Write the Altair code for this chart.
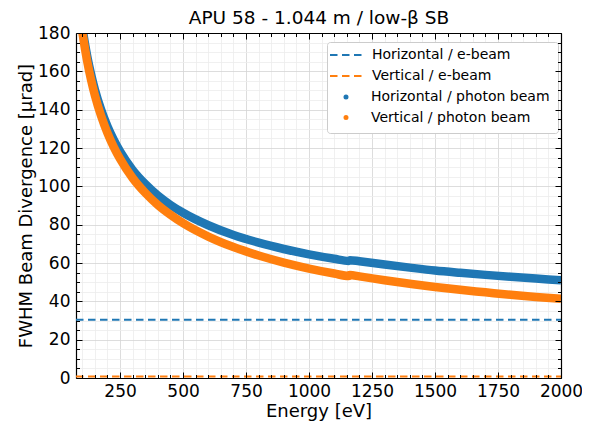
import altair as alt
import pandas as pd

# ---- data ----
energy = [80, 90, 100, 110, 120, 135, 150, 175, 200, 225, 250, 300, 350, 400, 450,
          500, 600, 700, 800, 900, 1000, 1100, 1158, 1162, 1200, 1300, 1400, 1500,
          1600, 1700, 1800, 1900, 2000]
horiz_photon = [204.2, 192.7, 183.2, 174.9, 167.6, 158.4, 150.5, 139.9, 131.3, 124.2,
                118.2, 108.5, 101.2, 95.2, 90.3, 86.2, 79.7, 74.6, 70.6, 67.3, 64.5,
                62.2, 61.1, 61.5, 60.9, 59.2, 57.6, 56.1, 54.9, 53.8, 52.8, 51.9, 51.0]
vert_photon = [202.0, 190.4, 180.7, 172.3, 164.9, 155.5, 147.5, 136.6, 127.8, 120.5,
               114.3, 104.3, 96.6, 90.3, 85.2, 80.8, 73.8, 68.3, 63.9, 60.2, 57.1,
               54.5, 53.2, 53.7, 53.0, 51.0, 49.2, 47.5, 46.0, 44.7, 43.4, 42.3, 41.3]
ebeam_energy = [75, 2000]
horiz_ebeam = 30.4
vert_ebeam = 0.8

photon_names = ["Horizontal / photon beam", "Vertical / photon beam"]
ebeam_names = ["Horizontal / e-beam", "Vertical / e-beam"]
colors = ["#1f77b4", "#ff7f0e"]
title_text = "APU 58 - 1.044 m / low-β SB"

x_domain = [75, 2000]
y_domain = [0, 180]
x_tick_values = list(range(100, 2001, 50))
y_tick_values = list(range(0, 181, 5))

# ---- tables ----
df_h = pd.DataFrame({"energy": energy, "divergence": horiz_photon, "series": photon_names[0]})
df_v = pd.DataFrame({"energy": energy, "divergence": vert_photon, "series": photon_names[1]})
df_eh = pd.DataFrame({"energy": ebeam_energy, "divergence": [horiz_ebeam] * 2,
                      "series": ebeam_names[0]})
df_ev = pd.DataFrame({"energy": ebeam_energy, "divergence": [vert_ebeam] * 2,
                      "series": ebeam_names[1]})

W, H = 485, 345
FONT = "DejaVu Sans"
major_x = "datum.value % 250 === 0"
major_y = "datum.value % 20 === 0"


def xs():
    return alt.Scale(domain=x_domain, nice=False, zero=False)


def ys():
    return alt.Scale(domain=y_domain, nice=False, zero=False)


def tsize(test):
    return {"condition": {"test": test, "value": 6}, "value": 3.5}


def gcolor(test):
    return {"condition": {"test": test, "value": "#d4d4d4"}, "value": "#ececec"}


axis_x_main = alt.Axis(orient="bottom", values=x_tick_values, format="d",
                       labelExpr=f"{major_x} ? datum.label : ''",
                       ticks=False, grid=True, gridColor=gcolor(major_x), gridWidth=0.8,
                       domain=True, domainColor="black", domainWidth=1.2,
                       labelFontSize=17, labelPadding=5, labelFlush=False,
                       labelOverlap=False, labelColor="black",
                       title="Energy [eV]", titleFontSize=18, titlePadding=3,
                       titleFontWeight="normal", titleColor="black", zindex=0)
axis_x_in_bottom = alt.Axis(orient="top", offset=-H, values=x_tick_values, labels=False,
                            grid=False, domain=False, ticks=True, tickSize=tsize(major_x),
                            tickColor="black", tickWidth=1, title=None, zindex=1)
axis_x_in_top = alt.Axis(orient="bottom", offset=-H, values=x_tick_values, labels=False,
                         grid=False, domain=True, domainColor="black", domainWidth=1.2,
                         ticks=True, tickSize=tsize(major_x), tickColor="black",
                         tickWidth=1, title=None, zindex=1)
axis_x_title = alt.Axis(orient="top", labels=False, ticks=False, grid=False, domain=False,
                        title=title_text, titleFontSize=18.5, titleFontWeight="normal",
                        titleColor="black", titlePadding=6, zindex=1)

axis_y_main = alt.Axis(orient="left", values=y_tick_values, format="d",
                       labelExpr=f"{major_y} ? datum.label : ''",
                       ticks=False, grid=True, gridColor=gcolor(major_y), gridWidth=0.8,
                       domain=True, domainColor="black", domainWidth=1.2,
                       labelFontSize=17, labelPadding=6, labelFlush=False,
                       labelOverlap=False, labelColor="black",
                       title="FWHM Beam Divergence [μrad]", titleFontSize=18,
                       titlePadding=2, titleFontWeight="normal", titleColor="black", zindex=0)
axis_y_in_left = alt.Axis(orient="right", offset=-W, values=y_tick_values, labels=False,
                          grid=False, domain=False, ticks=True, tickSize=tsize(major_y),
                          tickColor="black", tickWidth=1, title=None, zindex=1)
axis_y_in_right = alt.Axis(orient="left", offset=-W, values=y_tick_values, labels=False,
                           grid=False, domain=True, domainColor="black", domainWidth=1.2,
                           ticks=True, tickSize=tsize(major_y), tickColor="black",
                           tickWidth=1, title=None, zindex=1)

photon_legend = alt.Legend(title=" ", orient="none", legendX=251, legendY=9,
                           direction="vertical", symbolType="circle", symbolSize=6.25,
                           symbolStrokeWidth=2.5, symbolOffset=4, labelOffset=18,
                           padding=8, fillColor="white", strokeColor="#cccccc",
                           cornerRadius=3, labelFont=FONT, labelFontSize=14,
                           labelColor="black", titleFontSize=10, titlePadding=30,
                           rowPadding=6.5, labelLimit=400, zindex=0)
ebeam_legend = alt.Legend(title=None, orient="none", legendX=253, legendY=15,
                          direction="vertical", symbolType="stroke", symbolSize=1024,
                          symbolStrokeWidth=2, symbolDash=[7.5, 4.5], clipHeight=14,
                          labelOffset=9, padding=0, labelFont=FONT, labelFontSize=14,
                          labelColor="black", rowPadding=7, labelLimit=400, zindex=1)

color_scale = alt.Scale(domain=photon_names, range=colors)
stroke_scale = alt.Scale(domain=ebeam_names, range=colors)

eh_layer = alt.Chart(df_eh).mark_line(strokeWidth=2, strokeDash=[7.5, 4.5], clip=True).encode(
    x=alt.X("energy:Q", scale=xs(), axis=axis_x_in_top),
    y=alt.Y("divergence:Q", scale=ys(), axis=axis_y_in_right),
    stroke=alt.Stroke("series:N", scale=stroke_scale, legend=ebeam_legend),
)

ev_layer = alt.Chart(df_ev).mark_line(strokeWidth=2, strokeDash=[7.5, 4.5], clip=True).encode(
    x=alt.X("energy:Q", scale=xs(), axis=axis_x_title),
    y=alt.Y("divergence:Q", scale=ys(), axis=None),
    stroke=alt.Stroke("series:N", scale=stroke_scale, legend=ebeam_legend),
)

h_layer = alt.Chart(df_h).mark_line(strokeWidth=8.5, clip=True, interpolate="monotone").encode(
    x=alt.X("energy:Q", scale=xs(), axis=axis_x_main),
    y=alt.Y("divergence:Q", scale=ys(), axis=axis_y_main),
    color=alt.Color("series:N", scale=color_scale, legend=photon_legend),
)

v_layer = alt.Chart(df_v).mark_line(strokeWidth=8.5, clip=True, interpolate="monotone").encode(
    x=alt.X("energy:Q", scale=xs(), axis=axis_x_in_bottom),
    y=alt.Y("divergence:Q", scale=ys(), axis=axis_y_in_left),
    color=alt.Color("series:N", scale=color_scale, legend=photon_legend),
)

chart = alt.layer(eh_layer, ev_layer, h_layer, v_layer).resolve_axis(
    x="independent", y="independent"
).properties(
    width=W, height=H,
    autosize=alt.AutoSizeParams(type="none"),
    padding={"left": 68, "top": 25, "right": 21, "bottom": 44},
).configure_view(stroke=None).configure_axis(
    labelFont=FONT, titleFont=FONT
).configure_legend(labelFont=FONT, titleFont=FONT)

chart.save("out.html", embed_options={"renderer": "svg", "actions": False})
